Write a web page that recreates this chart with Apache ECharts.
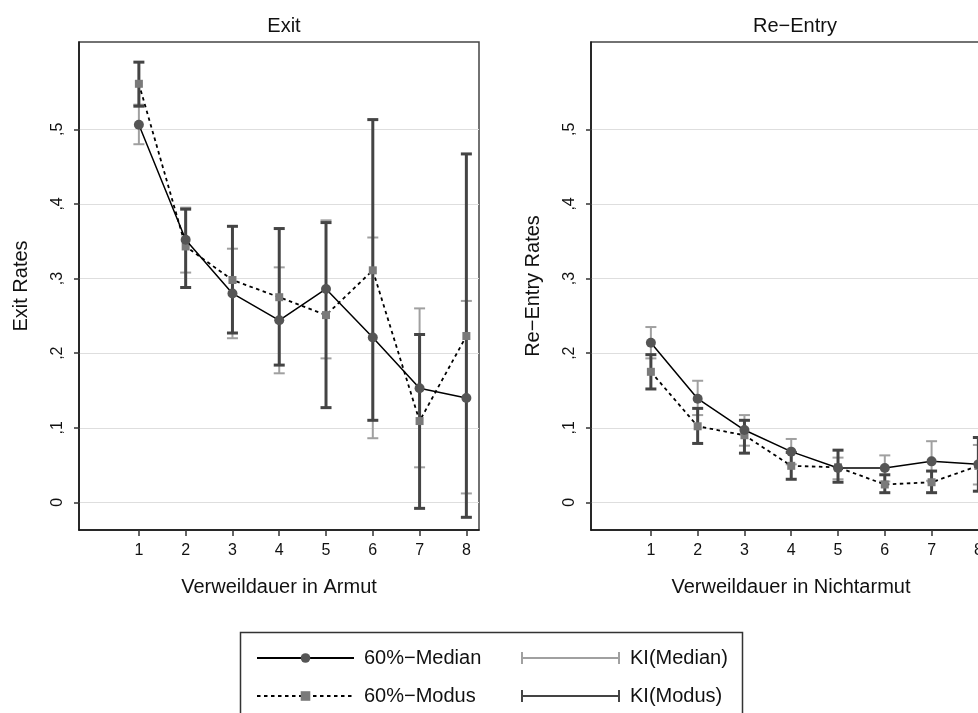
<!DOCTYPE html>
<html>
<head>
<meta charset="utf-8">
<script src="https://cdn.jsdelivr.net/npm/echarts@6/dist/echarts.min.js"></script>
<style>
  html, body { margin: 0; padding: 0; background: #fff; }
  #chart { width: 978px; height: 713px; }
</style>
</head>
<body>
<div id="chart"></div>
<script>
// Verweildauer (x)
const xVals = [1, 2, 3, 4, 5, 6, 7, 8]
const yTicks = [0, 0.1, 0.2, 0.3, 0.4, 0.5]

// Exit
const exitMedian = [0.506, 0.352, 0.280, 0.244, 0.286, 0.221, 0.153, 0.140]
const exitModus = [0.561, 0.343, 0.298, 0.275, 0.251, 0.311, 0.109, 0.223]
const exitKIMedianLo = [0.480, 0.308, 0.220, 0.173, 0.193, 0.086, 0.047, 0.012]
const exitKIMedianHi = [0.533, 0.395, 0.340, 0.315, 0.378, 0.355, 0.260, 0.270]
const exitKIModusLo = [0.531, 0.288, 0.227, 0.184, 0.127, 0.110, -0.008, -0.020]
const exitKIModusHi = [0.590, 0.393, 0.370, 0.367, 0.375, 0.513, 0.225, 0.467]

// Re-Entry
const reMedian = [0.214, 0.139, 0.097, 0.068, 0.046, 0.046, 0.055, 0.051]
const reModus = [0.175, 0.102, 0.090, 0.049, 0.047, 0.024, 0.027, 0.049]
const reKIMedianLo = [0.193, 0.117, 0.076, 0.051, 0.031, 0.028, 0.029, 0.024]
const reKIMedianHi = [0.235, 0.163, 0.117, 0.085, 0.060, 0.063, 0.082, 0.077]
const reKIModusLo = [0.152, 0.079, 0.066, 0.031, 0.027, 0.013, 0.013, 0.015]
const reKIModusHi = [0.198, 0.126, 0.110, 0.067, 0.070, 0.037, 0.042, 0.087]

const FONT = "'Liberation Sans', Arial, Helvetica, sans-serif"
const NAME_MEDIAN = '60%\u2212Median'
const NAME_MODUS = '60%\u2212Modus'
const KI_ICON = 'path://M0,0h2v12h-2zM0,5h100v2h-100zM98,0h2v12h-2z'

function errorBars (name, gi, lo, hi, color, w) {
  return {
    type: 'custom',
    name: name,
    xAxisIndex: gi,
    yAxisIndex: gi,
    z: 2,
    itemStyle: { color: color },
    encode: { x: 0, y: [1, 2] },
    data: xVals.map((x, i) => [x, lo[i], hi[i]]),
    renderItem (params, api) {
      const a = api.coord([api.value(0), api.value(1)])
      const b = api.coord([api.value(0), api.value(2)])
      const h = 5.5
      const style = { stroke: color, lineWidth: w, fill: null }
      return {
        type: 'group',
        children: [
          { type: 'line', shape: { x1: a[0], y1: a[1], x2: b[0], y2: b[1] }, style: style },
          { type: 'line', shape: { x1: a[0] - h, y1: a[1], x2: a[0] + h, y2: a[1] }, style: style },
          { type: 'line', shape: { x1: b[0] - h, y1: b[1], x2: b[0] + h, y2: b[1] }, style: style }
        ]
      }
    }
  }
}

function panelSeries (gi, median, modus, kMedLo, kMedHi, kModLo, kModHi) {
  return [
    errorBars('KI(Median)', gi, kMedLo, kMedHi, '#a0a0a0', 2),
    errorBars('KI(Modus)', gi, kModLo, kModHi, '#444444', 3),
    {
      type: 'line',
      name: NAME_MODUS,
      xAxisIndex: gi,
      yAxisIndex: gi,
      z: 3,
      data: xVals.map((x, i) => [x, modus[i]]),
      symbol: 'rect',
      symbolSize: 8,
      itemStyle: { color: '#7a7a7a' },
      lineStyle: { color: '#000', width: 1.8, type: [3.5, 3.5] }
    },
    {
      type: 'line',
      name: NAME_MEDIAN,
      xAxisIndex: gi,
      yAxisIndex: gi,
      z: 4,
      data: xVals.map((x, i) => [x, median[i]]),
      symbol: 'circle',
      symbolSize: 10,
      itemStyle: { color: '#555555' },
      lineStyle: { color: '#000', width: 1.5 }
    }
  ]
}

function xAxis (gi, name) {
  return {
    type: 'value',
    gridIndex: gi,
    min: -0.28,
    max: 8.27,
    name: name,
    nameLocation: 'middle',
    nameGap: 47,
    nameTextStyle: { fontSize: 20, color: '#111', fontFamily: FONT },
    axisLine: { onZero: false, lineStyle: { color: '#111', width: 1.5 } },
    axisTick: { show: true, length: 6, customValues: xVals, lineStyle: { color: '#333', width: 1.5 } },
    axisLabel: { customValues: xVals, margin: 13, fontSize: 16, color: '#111', fontFamily: FONT },
    splitLine: { show: false }
  }
}

function yAxis (gi, name) {
  return {
    type: 'value',
    gridIndex: gi,
    min: -0.037,
    max: 0.617,
    name: name,
    nameLocation: 'middle',
    nameGap: 48,
    nameTextStyle: { fontSize: 20, color: '#111', fontFamily: FONT },
    axisLine: { show: true, onZero: false, lineStyle: { color: '#111', width: 1.5 } },
    axisTick: { show: true, length: 5, customValues: yTicks, lineStyle: { color: '#333', width: 1.5 } },
    axisLabel: {
      customValues: yTicks,
      rotate: 90,
      margin: 13,
      fontSize: 16,
      color: '#111',
      fontFamily: FONT,
      formatter: v => (v === 0 ? '0' : ',' + Math.round(v * 10))
    },
    splitLine: { show: true, lineStyle: { color: '#dedede', width: 1.2 } }
  }
}

const chart = echarts.init(document.getElementById('chart'))

const option = {
  animation: false,
  backgroundColor: '#fff',
  title: [
    { text: 'Exit', left: 279, top: 11, textAlign: 'center', textStyle: { fontSize: 20, fontWeight: 'normal', color: '#111', fontFamily: FONT } },
    { text: 'Re\u2212Entry', left: 790, top: 11, textAlign: 'center', textStyle: { fontSize: 20, fontWeight: 'normal', color: '#111', fontFamily: FONT } }
  ],
  grid: [
    { left: 79, top: 42, width: 400, height: 488, show: true, borderColor: '#444', borderWidth: 1.5, outerBoundsMode: 'none' },
    { left: 591, top: 42, width: 400, height: 488, show: true, borderColor: '#444', borderWidth: 1.5, outerBoundsMode: 'none' }
  ],
  xAxis: [xAxis(0, 'Verweildauer in Armut'), xAxis(1, 'Verweildauer in Nichtarmut')],
  yAxis: [yAxis(0, 'Exit Rates'), yAxis(1, 'Re\u2212Entry Rates')],
  legend: [
    {
      orient: 'vertical',
      left: 251,
      top: 643,
      height: 120,
      itemWidth: 97,
      itemHeight: 12,
      itemGap: 18,
      textStyle: { fontSize: 20, color: '#111', fontFamily: FONT, padding: [0, 0, 0, 5] },
      data: [{ name: NAME_MEDIAN }, { name: NAME_MODUS }]
    },
    {
      orient: 'vertical',
      left: 516,
      top: 643,
      height: 120,
      itemWidth: 99,
      itemHeight: 12,
      itemGap: 18,
      textStyle: { fontSize: 20, color: '#111', fontFamily: FONT, padding: [0, 0, 0, 5] },
      data: [{ name: 'KI(Median)', icon: KI_ICON }, { name: 'KI(Modus)', icon: KI_ICON }]
    }
  ],
  graphic: [
    {
      type: 'rect',
      left: 238,
      top: 630,
      shape: { width: 502, height: 95 },
      style: { fill: null, stroke: '#333', lineWidth: 1.5 },
      silent: true,
      z: -1
    }
  ],
  series: [
    ...panelSeries(0, exitMedian, exitModus, exitKIMedianLo, exitKIMedianHi, exitKIModusLo, exitKIModusHi),
    ...panelSeries(1, reMedian, reModus, reKIMedianLo, reKIMedianHi, reKIModusLo, reKIModusHi)
  ]
}

chart.setOption(option)
</script>
</body>
</html>
